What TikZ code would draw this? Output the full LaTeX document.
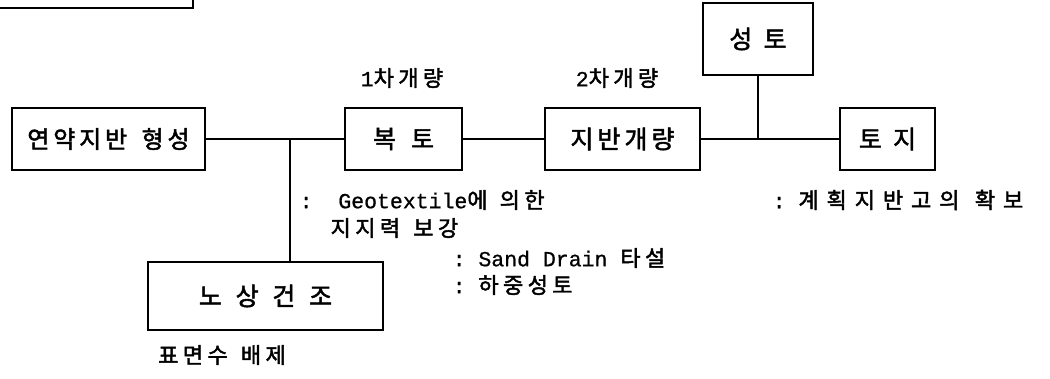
\documentclass[tikz,border=0pt]{standalone}
\usepackage{fontspec}
\newfontfamily\kr{Noto Sans CJK KR}[FakeBold=2, LetterSpace=16]
\newfontfamily\krl{Noto Sans CJK KR}[FakeBold=2, LetterSpace=20]
\newfontfamily\krw{Noto Sans CJK KR}[FakeBold=2, LetterSpace=36]
\newfontfamily\mono{Liberation Mono}[FakeBold=0.8]
\newcommand\MonoT[1]{{\mono\fontsize{21.5}{25}\selectfont #1}}
\newcommand\KorT[1]{{\krl\fontsize{22}{26}\selectfont #1}}
\newcommand\KorW[1]{{\krw\fontsize{22}{26}\selectfont #1}}
\begin{document}
\begin{tikzpicture}[x=1pt,y=-1pt,
  line width=1.3pt,
  box/.style={draw, line width=1.3pt, minimum height=62pt, inner sep=0pt,
    font=\kr\fontsize{25}{29}\selectfont},
  lbl/.style={anchor=west, inner sep=0pt},
  clbl/.style={anchor=center, inner sep=0pt}]
\useasboundingbox (0,0) rectangle (1050,379);
% partial box at top-left
\draw (0,8) -- (193,8) -- (193,0);
% boxes
\node[box, minimum width=193pt] (soft) at (108.5,139) {\fontsize{24}{28}\selectfont 연약지반\hspace{0.6em}형성};
\node[box, minimum width=117pt] (bokto) at (403.5,139) {복\hspace{0.6em}토};
\node[box, minimum width=155pt] (jiban) at (622.5,139) {지반개량};
\node[box, minimum width=110pt, minimum height=72pt] (seongto) at (758,39) {성\hspace{0.45em}토};
\node[box, minimum width=95pt] (toji) at (887.5,139) {토\hspace{0.45em}지};
\node[box, minimum width=235pt, minimum height=68pt] (nosang) at (265.5,296) {노\hspace{0.55em}상\hspace{0.55em}건\hspace{0.55em}조};
% connectors
\coordinate (j1) at (290,139);
\coordinate (j2) at (758,139);
\draw (soft.east) -- (bokto.west);
\draw (j1) -- (j1 |- nosang.north);
\draw (bokto.east) -- (jiban.west);
\draw (jiban.east) -- (toji.west);
\draw (seongto.south) -- (j2);
% labels
\node[clbl] (l1) at (402,78) {\MonoT{1}\KorT{차개량}};
\node[clbl] (l2) at (617,78) {\MonoT{2}\KorT{차개량}};
\node[lbl] (g1) at (299,200) {\MonoT{:\ \ Geotextile}\KorT{에\hspace{0.55em}의한}};
\node[lbl] (g2) at (330,228) {\KorT{지지력\hspace{0.6em}보강}};
\node[lbl] (s1) at (452,258) {\MonoT{:\ Sand Drain\ }\KorT{타설}};
\node[lbl] (s2) at (452,285) {\MonoT{:\ }\KorT{하중성토}};
\node[lbl] (t1) at (772,200) {\MonoT{:\ }\KorW{계획지반고의\hspace{0.7em}확보}};
\node[clbl] (n1) at (222,355) {\KorT{표면수\hspace{0.6em}배제}};
\end{tikzpicture}
\end{document}
